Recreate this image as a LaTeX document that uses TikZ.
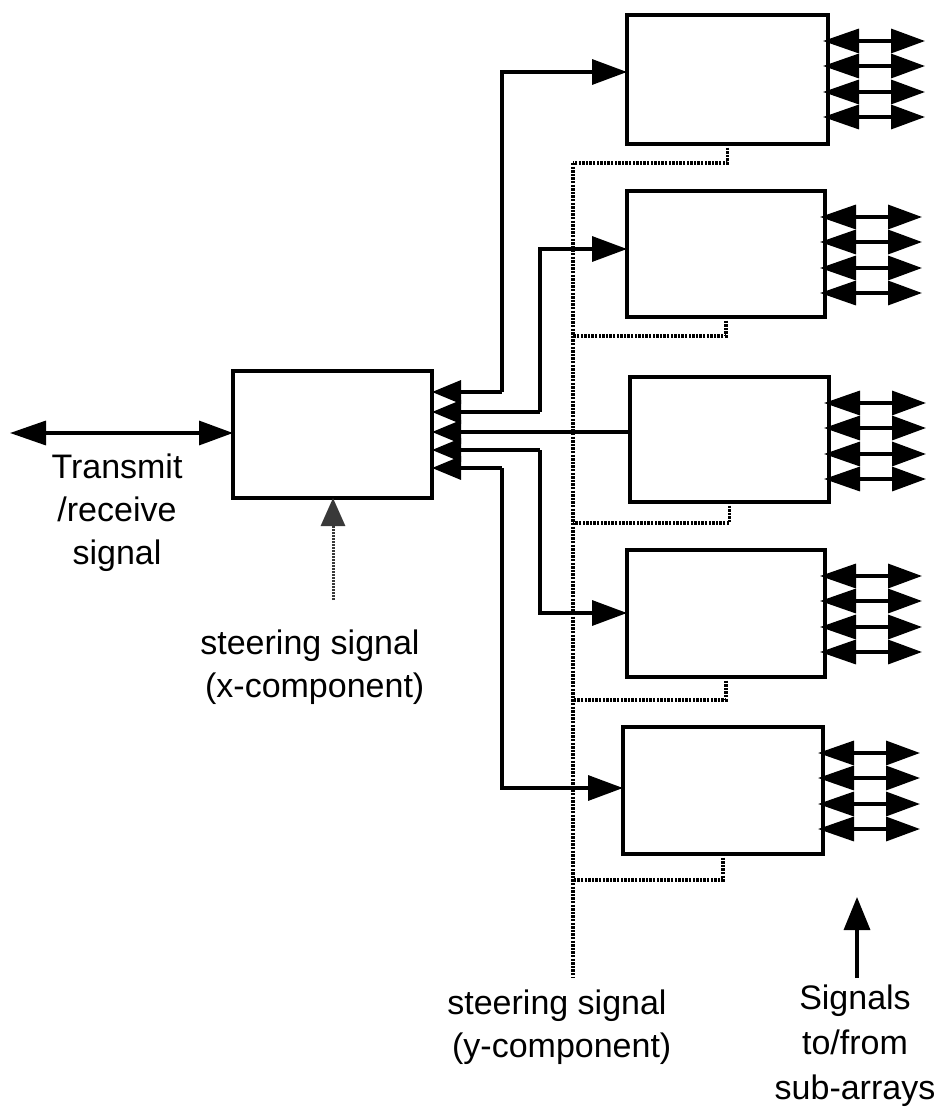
\documentclass[tikz,border=0pt]{standalone}
\usepackage{fontspec}
\setmainfont{Liberation Sans}
\usetikzlibrary{arrows.meta,calc}
\tikzset{
  blk/.style={draw, line width=3.6pt, rectangle, inner sep=0pt, outer sep=0pt, anchor=north west, fill=white},
  wire/.style={line width=3.4pt},
  bus/.style={line width=3.4pt, dash pattern=on 2.4pt off 1.2pt},
  inhead/.style={-{Triangle[length=35pt,width=25pt]}},
  outhead/.style={{Triangle[length=29pt,width=23pt]}-},
  dbl/.style={line width=3.4pt, {Triangle[length=36pt,width=24pt]}-{Triangle[length=34pt,width=24pt]}},
  lbl/.style={align=center, font=\fontsize{34}{43}\selectfont, inner sep=0pt},
}
\begin{document}
\begin{tikzpicture}[x=1pt,y=-1pt]
\useasboundingbox (0,0) rectangle (946,1109);

% y steering bus (drawn first, under the wires)
\coordinate (ytop) at (573,163);
\coordinate (ybot) at (573,977);
\draw[bus] (ytop) -- (ybot);

% boxes
\node[blk, minimum width=199pt, minimum height=127pt] (mix) at (233,371) {};
\node[blk, minimum width=201pt, minimum height=129pt] (b1) at (627,15) {};
\node[blk, minimum width=198pt, minimum height=126pt] (b2) at (627,191) {};
\node[blk, minimum width=199pt, minimum height=125pt] (b3) at (630,377) {};
\node[blk, minimum width=198pt, minimum height=127pt] (b4) at (627,550) {};
\node[blk, minimum width=200pt, minimum height=127pt] (b5) at (623,727) {};

% bus taps
\foreach \b/\d in {b1/19,b2/19,b3/21,b4/23,b5/26}{
  \draw[bus] (\b.south) -- ++(0,\d) coordinate (\b-t) -- (ytop |- \b-t);
}

% wires from the central box to the five boxes
\coordinate (m1) at (mix.east |- 0,392);
\coordinate (m2) at (mix.east |- 0,412);
\coordinate (m3) at (mix.east |- 0,432);
\coordinate (m4) at (mix.east |- 0,450);
\coordinate (m5) at (mix.east |- 0,468);
\draw[wire, outhead] (m1) -- (502,392) coordinate (c1);
\draw[wire, inhead] (c1) |- (b1.west |- 0,72);
\draw[wire, outhead] (m2) -- (540,412) coordinate (c2);
\draw[wire, inhead] (c2) |- (b2.west |- 0,249);
\draw[wire, outhead] (m3) -- (b3.west |- m3);
\draw[wire, outhead] (m4) -- (540,450) coordinate (c4);
\draw[wire, inhead] (c4) |- (b4.west |- 0,613);
\draw[wire, outhead] (m5) -- (502,468) coordinate (c5);
\draw[wire, inhead] (c5) |- (b5.west |- 0,788);

% sub-array double arrows
\foreach \b in {b1,b2,b3,b4,b5}{
  \foreach \o in {26,51,77,102}{
    \draw[dbl] ($(\b.north east)+(-5,\o)$) -- ($(\b.north east)+(97,\o)$);
  }
}

% transmit / receive
\coordinate (tr) at (10,433);
\draw[dbl] (tr) -- (mix.west |- tr);
\node[lbl] (trl) at (117,513) {Transmit\\/receive\\signal};

% x steering signal
\coordinate (xs) at (333,600);
\draw[line width=3pt, gray!45!black, dash pattern=on 1.8pt off 1.2pt,
  -{Triangle[length=28pt,width=24pt,fill=gray!45!black]}] (xs) -- (xs |- mix.south);
\node[lbl] (xl) at (310,667) {steering signal\\\ (x-component)};

% y steering label
\node[lbl] (yl) at (557,1027) {steering signal\\\ (y-component)};

% signals to/from sub-arrays
\coordinate (sa) at (857,978);
\draw[wire, -{Triangle[length=33pt,width=26pt]}] (sa) -- (857,897) coordinate (sb);
\node[lbl, font=\fontsize{34}{45}\selectfont] (sl) at (855,1046) {Signals\\to/from\\sub-arrays};
\end{tikzpicture}
\end{document}
